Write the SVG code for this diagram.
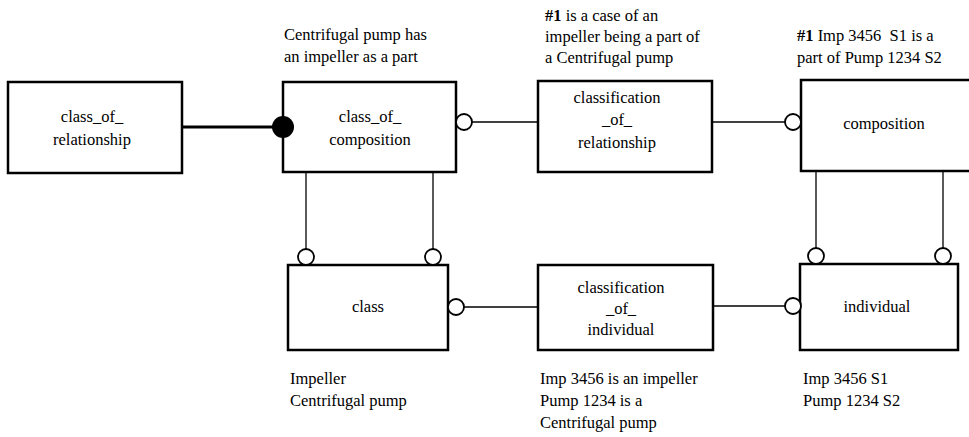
<svg xmlns="http://www.w3.org/2000/svg" width="969" height="437" viewBox="0 0 969 437" font-family="'Liberation Serif', 'Times New Roman', 'DejaVu Serif', serif">
  <style>
    .box { fill: #fff; stroke: #000; stroke-width: 2.5; }
    .t { font-family: 'Liberation Serif', 'Times New Roman', 'DejaVu Serif', serif; font-size: 16.5px; fill: #000; }
    .c { text-anchor: middle; }
    .lnk { stroke: #000; stroke-width: 1.3; fill: none; }
    .ring { fill: #fff; stroke: #000; stroke-width: 1.8; }
  </style>
  <rect width="969" height="437" fill="#fff"/>

  <g id="class_of_relationship">
    <rect class="box" x="8" y="82" width="174" height="91"/>
    <text class="t c" x="92" y="122">class_of_</text>
    <text class="t c" x="92" y="145">relationship</text>
  </g>

  <g id="class_of_composition">
    <rect class="box" x="283" y="82" width="173" height="90"/>
    <text class="t c" x="370" y="122">class_of_</text>
    <text class="t c" x="370" y="145">composition</text>
    <text class="t" x="284" y="40">Centrifugal pump has</text>
    <text class="t" x="284" y="62">an impeller as a part</text>
  </g>

  <g id="classification_of_relationship">
    <rect class="box" x="538" y="81" width="174" height="91"/>
    <text class="t c" x="617" y="103">classification</text>
    <text class="t c" x="617" y="125">_of_</text>
    <text class="t c" x="617" y="148">relationship</text>
    <text class="t" x="545" y="21"><tspan font-weight="bold">#1</tspan> is a case of an</text>
    <text class="t" x="545" y="42">impeller being a part of</text>
    <text class="t" x="545" y="63">a Centrifugal pump</text>
  </g>

  <g id="composition">
    <rect class="box" x="801" y="80" width="180" height="91"/>
    <text class="t c" x="884" y="129">composition</text>
    <text class="t" x="797" y="41" xml:space="preserve"><tspan font-weight="bold">#1</tspan> Imp 3456  S1 is a</text>
    <text class="t" x="797" y="63">part of Pump 1234 S2</text>
  </g>

  <g id="class">
    <rect class="box" x="288" y="265" width="160" height="85"/>
    <text class="t c" x="368" y="312">class</text>
    <text class="t" x="290" y="384">Impeller</text>
    <text class="t" x="290" y="406">Centrifugal pump</text>
  </g>

  <g id="classification_of_individual">
    <rect class="box" x="538" y="265" width="175" height="85"/>
    <text class="t c" x="621" y="293">classification</text>
    <text class="t c" x="621" y="314">_of_</text>
    <text class="t c" x="621" y="335">individual</text>
    <text class="t" x="540" y="384">Imp 3456 is an impeller</text>
    <text class="t" x="540" y="406">Pump 1234 is a</text>
    <text class="t" x="540" y="428">Centrifugal pump</text>
  </g>

  <g id="individual">
    <rect class="box" x="800" y="264" width="158" height="86"/>
    <text class="t c" x="877" y="312">individual</text>
    <text class="t" x="803" y="384">Imp 3456 S1</text>
    <text class="t" x="803" y="406">Pump 1234 S2</text>
  </g>

  <!-- connectors, drawn over the box outlines -->
  <g id="connectors">
    <!-- class_of_relationship to class_of_composition (heavy, filled end) -->
    <line x1="182" y1="127" x2="283" y2="127" stroke="#000" stroke-width="3"/>
    <circle cx="283" cy="127" r="11" fill="#000"/>
    <!-- class_of_composition to classification_of_relationship -->
    <line class="lnk" x1="472" y1="122" x2="538" y2="122"/>
    <circle class="ring" cx="464" cy="122" r="8"/>
    <!-- classification_of_relationship to composition -->
    <line class="lnk" x1="712" y1="122" x2="785" y2="122"/>
    <circle class="ring" cx="793" cy="122" r="8"/>
    <!-- class_of_composition to class -->
    <line class="lnk" x1="306" y1="173" x2="306" y2="249"/>
    <circle class="ring" cx="306" cy="257" r="8"/>
    <line class="lnk" x1="433" y1="173" x2="433" y2="249"/>
    <circle class="ring" cx="433" cy="257" r="8"/>
    <!-- composition to individual -->
    <line class="lnk" x1="816" y1="172" x2="816" y2="248"/>
    <circle class="ring" cx="816" cy="256" r="8"/>
    <line class="lnk" x1="943" y1="172" x2="943" y2="248"/>
    <circle class="ring" cx="943" cy="256" r="8"/>
    <!-- class to classification_of_individual -->
    <line class="lnk" x1="464" y1="307" x2="538" y2="307"/>
    <circle class="ring" cx="456" cy="307" r="8"/>
    <!-- classification_of_individual to individual -->
    <line class="lnk" x1="713" y1="306" x2="785" y2="306"/>
    <circle class="ring" cx="793" cy="306" r="8"/>
  </g>
</svg>
